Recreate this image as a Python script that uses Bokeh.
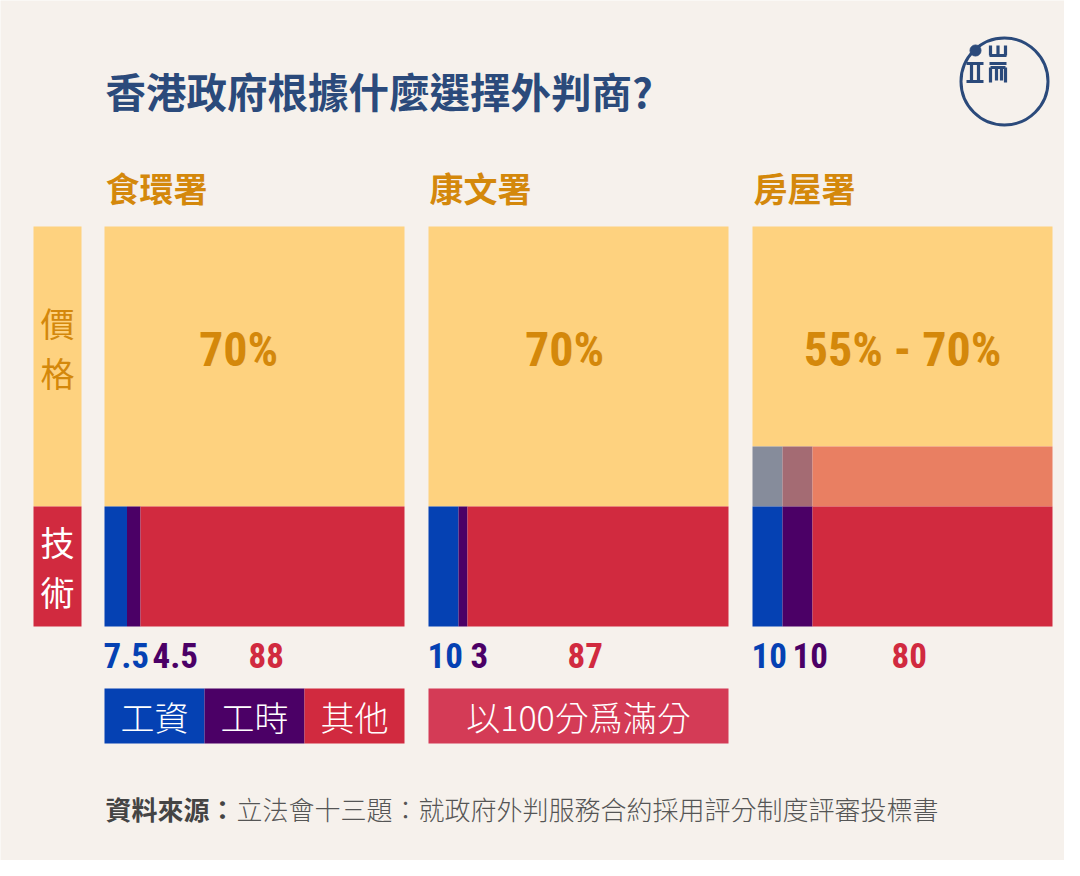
from bokeh.plotting import figure
from bokeh.models import Range1d
from bokeh.core.properties import value
from bokeh.embed import file_html
from bokeh.resources import INLINE

# ---------------- data ----------------
title = "香港政府根據什麼選擇外判商?"
agencies = ["食環署", "康文署", "房屋署"]
price_min = [70, 70, 55]
price_max = [70, 70, 70]
wage = [7.5, 10, 10]
hours = [4.5, 3, 10]
other = [88, 87, 80]
wage_labels = ["7.5", "10", "10"]
hours_labels = ["4.5", "3", "10"]
other_labels = ["88", "87", "80"]
price_labels = ["70%", "70%", "55% - 70%"]
side_labels = ["價格", "技術"]
legend_labels = ["工資", "工時", "其他"]
note_label = "以100分爲滿分"
source_bold = "資料來源："
source_text = "立法會十三題：就政府外判服務合約採用評分制度評審投標書"

# ---------------- styles ----------------
BG = "#f6f1ec"
YELLOW = "#fed27f"
RED = "#d12a3f"
BLUE = "#0541b3"
PURPLE = "#4b0066"
AMBER = "#d4880b"
NAVY = "#2b4a7b"
NOTE = "#d43b56"
BAND = ["#868c9b", "#a46b73", "#e97f62"]
CJK = value("Noto Sans CJK TC")
CJK_LIGHT = value("'Noto Sans CJK TC Light', 'Noto Sans CJK TC DemiLight', 'Noto Sans CJK TC'")
NUM = value("'Roboto Condensed', 'Noto Sans Condensed', 'Open Sans Condensed', "
            "'DejaVu Sans Condensed', 'Liberation Sans Narrow', Impact, sans-serif")

# layout constants (pixels of the 1080x876 canvas)
PX0 = 104
PSTEP = 324
PW = 300
TOP = 226
H = 400
num_offsets = [[0, 49, 145], [0, 43, 140], [0, 41, 140]]
pct_offsets = [134, 136, 150]

p = figure(width=1064, height=860, output_backend="svg", toolbar_location=None,
           x_range=Range1d(0, 1064), y_range=Range1d(860, 0),
           min_border=0, background_fill_color=BG, border_fill_color=BG)
p.axis.visible = False
p.grid.visible = False
p.outline_line_color = None

# title
p.text(x=[105], y=[90], text=[title], text_font=CJK, text_font_style="bold",
       text_font_size="40.5px", text_color=NAVY, text_baseline="middle", text_align="left")

# logo
p.circle(x=[1004], y=[81], radius=43.5, fill_color=None, line_color=NAVY, line_width=3)
p.circle(x=[975], y=[50], radius=5.5, fill_color=NAVY, line_color=NAVY)
lx0 = [966, 966, 971, 978, 989, 990, 997.5, 1005, 989, 990, 990, 996, 1001, 1005]
ly0 = [63, 81, 63, 63, 55, 45, 45, 45, 63, 67, 67, 67, 67, 67]
lx1 = [983, 983, 971, 978, 1006, 990, 997.5, 1005, 1006, 1005, 990, 996, 1001, 1005]
ly1 = [63, 81, 81, 81, 55, 55, 55, 55, 63, 67, 82, 80, 80, 82]
p.segment(x0=lx0, y0=ly0, x1=lx1, y1=ly1, line_color=NAVY, line_width=3.2)

# side label bar
price_bottom0 = TOP + H * price_max[0] / 100
p.quad(left=[33], right=[81], top=[TOP], bottom=[price_bottom0], fill_color=YELLOW, line_color=None)
p.quad(left=[33], right=[81], top=[price_bottom0], bottom=[TOP + H], fill_color=RED, line_color=None)
p.text(x=[57, 57], y=[322, 372], text=list(side_labels[0]), text_font=CJK, text_font_size="34px",
       text_color=AMBER, text_align="center", text_baseline="middle")
p.text(x=[57, 57], y=[541, 591], text=list(side_labels[1]), text_font=CJK, text_font_size="34px",
       text_color="white", text_align="center", text_baseline="middle")

for i, name in enumerate(agencies):
    x0 = PX0 + i * PSTEP
    # header
    p.text(x=[x0 + 1], y=[187], text=[name], text_font=CJK, text_font_style="bold",
           text_font_size="34px", text_color=AMBER, text_baseline="middle", text_align="left")
    y_pmin = TOP + H * price_min[i] / 100
    y_pmax = TOP + H * price_max[i] / 100
    # price block
    p.quad(left=[x0], right=[x0 + PW], top=[TOP], bottom=[y_pmin], fill_color=YELLOW, line_color=None)
    # technical splits
    fr = [wage[i], hours[i], other[i]]
    edges = [0, fr[0], fr[0] + fr[1], fr[0] + fr[1] + fr[2]]
    lefts = [x0 + PW * e / 100 for e in edges[:3]]
    rights = [x0 + PW * e / 100 for e in edges[1:]]
    if price_max[i] > price_min[i]:
        p.quad(left=lefts, right=rights, top=[y_pmin] * 3, bottom=[y_pmax] * 3,
               fill_color=BAND, line_color=None)
    p.quad(left=lefts, right=rights, top=[y_pmax] * 3, bottom=[TOP + H] * 3,
           fill_color=[BLUE, PURPLE, RED], line_color=None)
    # percentage label
    p.text(x=[x0 + pct_offsets[i]], y=[349], text=[price_labels[i]], text_font=NUM,
           text_font_style="bold", text_font_size="48px", text_color=AMBER,
           text_align="center", text_baseline="middle")
    # number labels
    labs = [wage_labels[i], hours_labels[i], other_labels[i]]
    p.text(x=[x0 - 1 + o for o in num_offsets[i]], y=[655] * 3, text=labs, text_font=NUM,
           text_font_style="bold", text_font_size="35px", text_color=[BLUE, PURPLE, RED],
           text_align="left", text_baseline="middle")

# legend
lg_left = [PX0 + k * 100 for k in range(3)]
p.quad(left=lg_left, right=[l + 100 for l in lg_left], top=[688] * 3, bottom=[743] * 3,
       fill_color=[BLUE, PURPLE, RED], line_color=None)
p.text(x=[l + 50 for l in lg_left], y=[715.5] * 3, text=legend_labels, text_font=CJK_LIGHT,
       text_font_size="34px", text_color="white", text_align="center", text_baseline="middle")
x1 = PX0 + PSTEP
p.quad(left=[x1], right=[x1 + PW], top=[688], bottom=[743], fill_color=NOTE, line_color=None)
p.text(x=[x1 + PW / 2], y=[715.5], text=[note_label], text_font=CJK_LIGHT, text_font_size="34px",
       text_color="white", text_align="center", text_baseline="middle")

# source
p.text(x=[105], y=[808], text=[source_bold], text_font=CJK, text_font_style="bold",
       text_font_size="26px", text_color="#444444", text_align="left", text_baseline="middle")
p.text(x=[236], y=[808], text=[source_text], text_font=CJK_LIGHT,
       text_font_size="26px", text_color="#555555", text_align="left", text_baseline="middle")

open("out.html", "w").write(file_html(p, INLINE))
